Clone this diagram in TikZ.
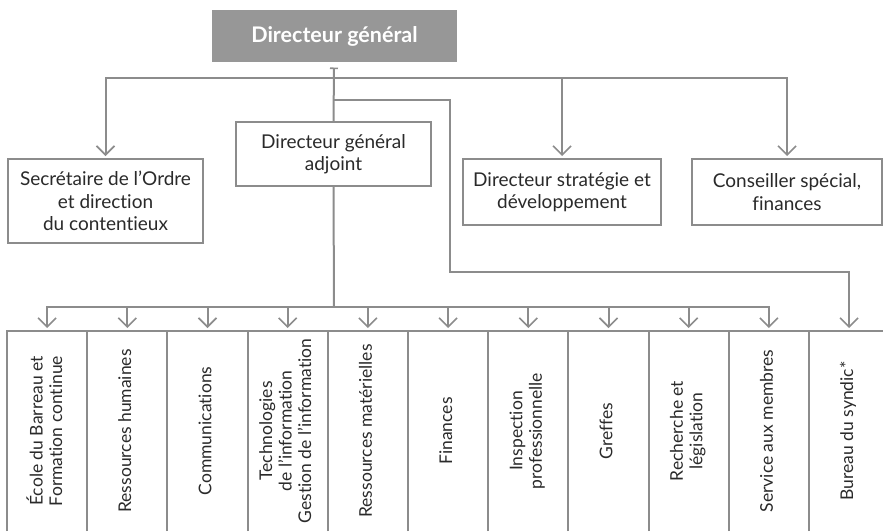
\documentclass[tikz,border=0pt]{standalone}
\usepackage{fontspec}
\setmainfont[Ligatures=NoCommon]{Lato}
\usetikzlibrary{arrows.meta}
\definecolor{lg}{HTML}{8C8C8C}
\definecolor{boxfill}{HTML}{979797}
\definecolor{txt}{HTML}{2A2A2A}
\begin{document}
\begin{tikzpicture}[x=1pt,y=-1pt,
  ln/.style={draw=lg, line width=2pt},
  arr/.style={-{Straight Barb[length=9pt,width=18pt,line width=1.6pt]}, shorten >=3pt},
  box/.style={draw=lg, line width=2pt, fill=white, text=txt, align=center, inner sep=0pt, outer sep=0pt,
    font=\fontsize{19}{22.5}\selectfont},
  col/.style={draw=none, inner sep=0pt, outer sep=0pt, minimum width=80.2pt, minimum height=200pt, text=txt,
    font=\fontsize{17.5}{19.5}\selectfont},
  colline/.style={draw=lg, line width=2pt}
]
\useasboundingbox (0,0) rectangle (883,531);
\clip (0,0) rectangle (883,531);

\node[fill=boxfill, draw=none, text=white, inner sep=0pt, outer sep=0pt, minimum width=245pt, minimum height=52pt,
  font=\fontsize{21.5}{24}\selectfont\bfseries] (dg) at (334.5,36) {Directeur général};

\node[box, minimum width=195pt, minimum height=84pt] (sec) at (105.5,201) {Secrétaire de l’Ordre\\et direction\\du contentieux};
\node[box, minimum width=195pt, minimum height=64pt] (dga) at (333.5,154) {Directeur général\\adjoint};
\node[box, minimum width=198pt, minimum height=66pt] (strat) at (562,192) {Directeur stratégie et\\développement};
\node[box, minimum width=190pt, minimum height=66pt] (cons) at (787,192) {Conseiller spécial,\\finances};

\foreach \i/\t in {1/{École du Barreau et\\Formation continue},
                   2/{Ressources humaines},
                   3/{Communications},
                   4/{Technologies\\de l’information\\Gestion de l’information},
                   5/{Ressources matérielles},
                   6/{Finances},
                   7/{Inspection\\professionnelle},
                   8/{Greffes},
                   9/{Recherche et\\législation},
                   10/{Service aux membres},
                   11/{Bureau du syndic*}} {
  \node[col] (c\i) at ({7+80.2*(\i-1)+40.1},431) {\rotatebox{90}{\begin{tabular}{@{}c@{}}\t\end{tabular}}};
  \draw[colline] (c\i.south west) -- (c\i.north west) -- (c\i.north east) -- (c\i.south east);
}

\coordinate (tick) at (334,67.5);
\coordinate (j1) at (334,77.5);
\coordinate (j2) at (334,100);
\coordinate (b2) at (450,272);
\coordinate (j3) at (334,307);

\draw[ln, {Bar[width=8pt,line width=1.6pt]}-] (tick) -- (dga.north);
\draw[ln, arr] (j1) -| (sec.north);
\draw[ln, arr] (j1) -| (strat.north);
\draw[ln, arr] (j1) -| (cons.north);
\draw[ln, arr] (j2) -| (b2) -| (c11.north);
\draw[ln] (dga.south) -- (j3);
\foreach \i in {1,...,10} {
  \draw[ln, arr] (j3) -| (c\i.north);
}
\end{tikzpicture}
\end{document}
